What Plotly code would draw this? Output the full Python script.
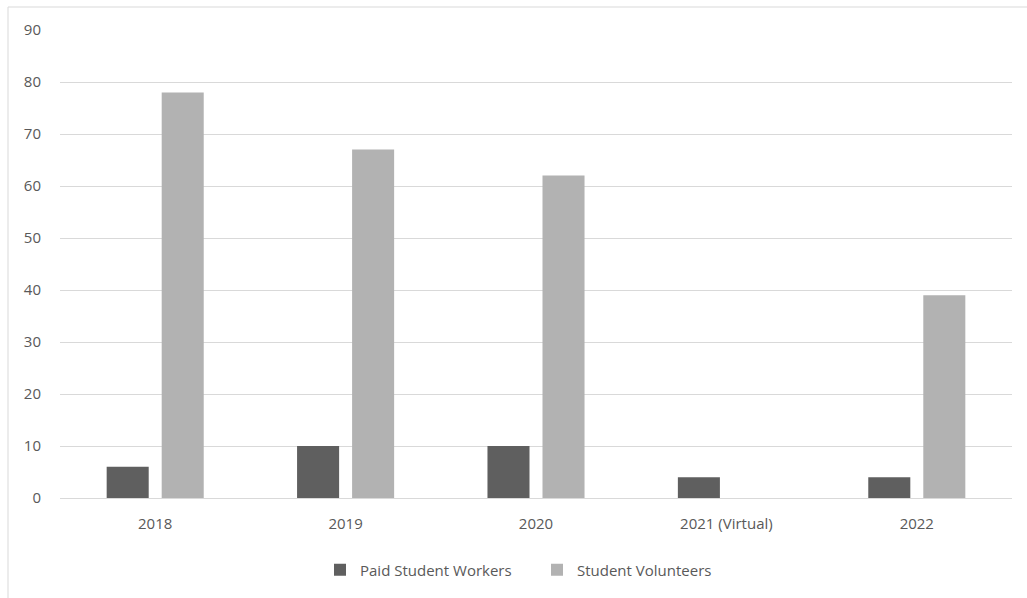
import plotly.graph_objects as go

categories = ["2018", "2019", "2020", "2021 (Virtual)", "2022"]
paid_workers = [6, 10, 10, 4, 4]
volunteers = [78, 67, 62, None, 39]
y_ticks = [0, 10, 20, 30, 40, 50, 60, 70, 80, 90]

W, H = 1027, 598
L, R, T, B = 60, 15, 30, 100
pw = W - L - R
ph = H - T - B


def px_x(x):
    return (x - L) / pw


def px_y(y):
    return (H - B - y) / ph


fig = go.Figure()
fig.add_trace(go.Bar(name="Paid Student Workers", x=categories, y=paid_workers,
                     marker=dict(color="#5f5f5f", line=dict(width=0))))
fig.add_trace(go.Bar(name="Student Volunteers", x=categories, y=volunteers,
                     marker=dict(color="#b2b2b2", line=dict(width=0))))

font = dict(family="Open Sans, Noto Sans, sans-serif", size=15, color="#595959")

fig.update_layout(
    width=W, height=H,
    margin=dict(l=L, r=R, t=T, b=B, autoexpand=False),
    paper_bgcolor="white", plot_bgcolor="white",
    barmode="group", bargap=0.422, bargroupgap=0.236,
    font=font,
    showlegend=True,
    legend=dict(orientation="h", x=px_x(320), xanchor="left",
                y=px_y(570), yanchor="middle",
                font=font, itemwidth=30, entrywidth=172, traceorder="normal"),
    xaxis=dict(showgrid=False, showline=False, zeroline=False,
               ticks="outside", ticklen=12, tickcolor="rgba(0,0,0,0)",
               tickfont=font),
    yaxis=dict(range=[0, 90], tickvals=y_ticks, showgrid=True,
               gridcolor="#d9d9d9", gridwidth=1, zeroline=True,
               zerolinecolor="#d9d9d9", zerolinewidth=1, showline=False,
               ticks="outside", ticklen=15, tickcolor="rgba(0,0,0,0)",
               tickfont=font),
    shapes=[
        dict(type="line", xref="paper", yref="paper",
             x0=px_x(8), x1=px_x(8), y0=px_y(7), y1=px_y(H + 5),
             line=dict(color="#d9d9d9", width=1)),
        dict(type="line", xref="paper", yref="paper",
             x0=px_x(8), x1=px_x(W + 5), y0=px_y(7), y1=px_y(7),
             line=dict(color="#d9d9d9", width=1)),
    ],
)

fig.write_html("out.html")
